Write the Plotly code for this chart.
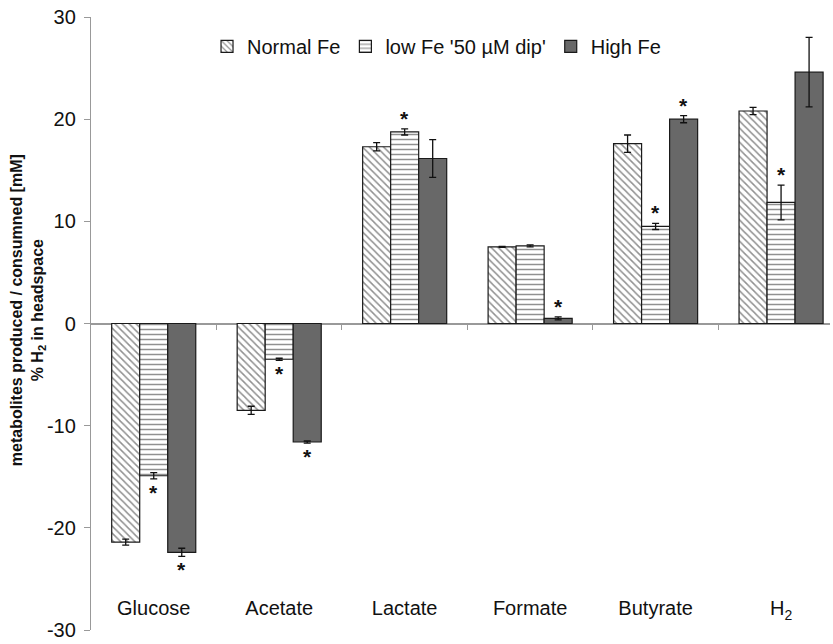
import plotly.graph_objects as go

# Metabolite balance per iron condition
categories = ["Glucose", "Acetate", "Lactate", "Formate", "Butyrate", "H<sub>2</sub>"]
series_names = ["Normal Fe", "low Fe '50 µM dip'", "High Fe"]

normal_fe = [-21.4, -8.5, 17.3, 7.5, 17.6, 20.8]
normal_err = [0.3, 0.4, 0.4, 0.05, 0.85, 0.35]

low_fe = [-14.9, -3.5, 18.75, 7.6, 9.5, 11.85]
low_err = [0.3, 0.1, 0.3, 0.1, 0.3, 1.7]

high_fe = [-22.4, -11.6, 16.15, 0.5, 20.0, 24.6]
high_err = [0.4, 0.1, 1.85, 0.15, 0.35, 3.4]

# significance marks: 1 where the difference vs. normal Fe is significant
low_sig = [1, 1, 1, 0, 1, 1]
high_sig = [1, 1, 0, 1, 1, 0]

y_ticks = [-30, -20, -10, 0, 10, 20, 30]
y_tick_text = ["-30", "-20", "-10", "0", "10", "20", "30"]

FONT = "Liberation Sans, Arial, sans-serif"
EDGE = "#1a1a1a"

fig = go.Figure()

styles = [
    dict(color="white", pattern=dict(shape="\\", fgcolor="#222222", bgcolor="white", size=5, solidity=0.3)),
    dict(color="white", pattern=dict(shape="-", fgcolor="#222222", bgcolor="white", size=5, solidity=0.3)),
    dict(color="#686868"),
]
values = [normal_fe, low_fe, high_fe]
errors = [normal_err, low_err, high_err]

for name, vals, errs, st in zip(series_names, values, errors, styles):
    fig.add_trace(go.Bar(
        x=categories, y=vals, name=name,
        marker=dict(line=dict(color=EDGE, width=1.2), **st),
        error_y=dict(type="data", array=errs, visible=True,
                     color="#111111", thickness=1.3, width=3.5),
    ))

# asterisks above (positive) or below (negative) the error bar end
BAR_PX = 28
for sig_list, vals, errs, shift in [(low_sig, low_fe, low_err, 0), (high_sig, high_fe, high_err, 1)]:
    for cat, s, v, e in zip(categories, sig_list, vals, errs):
        if not s:
            continue
        up = v >= 0
        fig.add_annotation(
            x=cat, y=v + e if up else v - e, xref="x", yref="y",
            text="<b>*</b>", showarrow=False,
            xshift=shift * BAR_PX,
            yanchor="bottom" if up else "top",
            yshift=-3 if up else 0,
            font=dict(family=FONT, size=21, color="#111111"),
        )

# y axis title (two lines)
fig.add_annotation(
    xref="paper", yref="paper", x=-0.085, y=0.522,
    text="<b>metabolites produced / consumned [mM]<br>% H<sub>2</sub> in headspace</b>",
    textangle=-90, showarrow=False, xanchor="center", yanchor="middle",
    font=dict(family=FONT, size=16, color="#111111"),
)

x_range = [-0.5, 5.39]

fig.update_layout(
    width=833, height=644,
    margin=dict(l=91, r=3, t=17, b=9),
    paper_bgcolor="white", plot_bgcolor="white",
    barmode="group", bargap=0.33, bargroupgap=0,
    font=dict(family=FONT, size=20, color="#111111"),
    showlegend=True,
    legend=dict(orientation="h", x=0.157, y=0.984, xanchor="left", yanchor="top",
                font=dict(family=FONT, size=20, color="#111111"),
                bgcolor="rgba(0,0,0,0)", itemwidth=30, traceorder="normal"),
    xaxis=dict(range=x_range, showline=False, showgrid=False, zeroline=False,
               ticks="", anchor="free", position=0.058,
               tickfont=dict(family=FONT, size=20, color="#111111")),
    xaxis2=dict(overlaying="x", range=x_range, anchor="free", position=0.5,
                tickvals=[0.5, 1.5, 2.5, 3.5, 4.5], ticks="outside", ticklen=5,
                tickcolor="#999999", tickwidth=1.3, showticklabels=False,
                showgrid=False, zeroline=False, showline=False),
    yaxis=dict(range=[-30, 30], tickvals=y_ticks, ticktext=y_tick_text, showgrid=False,
               showline=True, linecolor="#999999", linewidth=1.3,
               ticks="outside", ticklen=6, tickcolor="#999999", tickwidth=1.3,
               ticklabelstandoff=4, ticklabeloverflow="allow",
               zeroline=True, zerolinecolor="#999999", zerolinewidth=1.5,
               tickfont=dict(family=FONT, size=20, color="#111111")),
)

# invisible trace that carries the boundary-tick axis
fig.add_trace(go.Scatter(x=[0], y=[0], xaxis="x2", mode="markers",
                         marker=dict(opacity=0), showlegend=False, hoverinfo="skip"))

fig.write_html("out.html")
